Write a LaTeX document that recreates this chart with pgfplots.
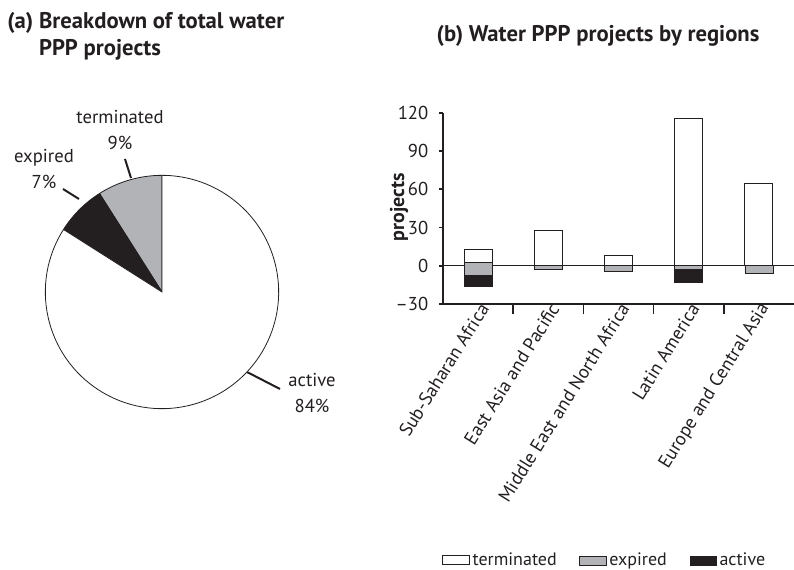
\documentclass[border=0pt]{standalone}
\usepackage{pgfplots}
\pgfplotsset{compat=1.18}
\usepackage{fontspec}
\setmainfont{PT Sans}
\definecolor{ink}{HTML}{231F20}
\definecolor{gr}{HTML}{B1B3B6}
\begin{document}
\begin{tikzpicture}
\useasboundingbox (0,0) rectangle (595.5pt,-427.5pt);
\begin{scope}[x=0.75pt,y=-0.75pt]
% titles
\node[anchor=north west, inner sep=0pt, text=ink, font=\bfseries\fontsize{17}{20}\selectfont] at (7,10)
  {\begin{tabular}{@{}l@{\ }l@{}}(a) & Breakdown of total water\\ & PPP projects\end{tabular}};
\node[text=ink, font=\bfseries\fontsize{17}{20}\selectfont] at (598,36) {(b) Water PPP projects by regions};
% pie leaders and labels
\draw[ink, line width=1.5pt] (131,178) -- (125,159);
\draw[ink, line width=1.5pt] (79,199) -- (63,189);
\draw[ink, line width=1.5pt] (247,372) -- (280,389);
\node[text=ink, align=center, font=\fontsize{14}{19.5}\selectfont] at (120,130) {terminated\\9\%};
\node[text=ink, align=center, font=\fontsize{14}{19.5}\selectfont] at (44,169) {expired\\7\%};
\node[text=ink, align=center, font=\fontsize{14}{19.5}\selectfont] at (312,393) {active\\84\%};
\node[rotate=90, text=ink, font=\bfseries\fontsize{15}{17}\selectfont] at (399,207) {projects};
\end{scope}
% pie (values: terminated 9, expired 7, active 84)
\begin{axis}[hide axis, at={(121.5pt,-219pt)}, anchor=center, scale only axis,
  width=175pt, height=175pt, xmin=-1, xmax=1, ymin=-1, ymax=1, clip=false]
\filldraw[fill=gr, draw=ink, line width=0.6pt] (axis cs:0,0) -- ++(90:87.5pt) arc[start angle=90, end angle={90+3.6*9}, radius=87.5pt] -- cycle;
\filldraw[fill=ink, draw=ink, line width=0.6pt] (axis cs:0,0) -- ++({90+3.6*9}:87.5pt) arc[start angle={90+3.6*9}, end angle={90+3.6*16}, radius=87.5pt] -- cycle;
\filldraw[fill=white, draw=ink, line width=0.6pt] (axis cs:0,0) -- ++({90+3.6*16}:87.5pt) arc[start angle={90+3.6*16}, end angle={450}, radius=87.5pt] -- cycle;
\end{axis}
% bar chart
\begin{axis}[at={(332.25pt,-228pt)}, anchor=south west, scale only axis,
  width=263.25pt, height=143.5pt,
  xmin=-0.5, xmax=4.5, ymin=-30, ymax=120,
  ybar stacked, stack negative=on previous, bar width=21pt,
  axis lines*=left, axis line style={ink, line width=1.3pt},
  tick align=outside, tick style={ink, line width=1.3pt},
  ytick={-30,0,30,60,90,120},
  yticklabels={\textendash30,0,30,60,90,120},
  ytick style={/pgfplots/major tick length=3pt},
  major tick length=7.5pt,
  xtick={0.5,1.5,2.5,3.5},
  xticklabels={},
  extra x ticks={0,1,2,3,4},
  extra x tick labels={Sub-Saharan Africa, East Asia and Pacific, Middle East and North Africa, Latin America, Europe and Central Asia},
  extra x tick style={/pgfplots/major tick length=0pt,
    xticklabel style={rotate=58, anchor=east, xshift=5pt, yshift=-4.5pt}},
  ticklabel style={text=ink, font=\fontsize{14}{16}\selectfont},
  legend columns=3,
  reverse legend,
  legend style={draw=none, fill=none, at={(-0.014,-1.34)}, anchor=west,
    font=\fontsize{13.5}{16}\selectfont, text=ink,
    nodes={inner xsep=2pt},
    /tikz/every even column/.append style={column sep=15pt}},
  legend image code/.code={\draw[#1] (0pt,-3.4pt) rectangle (20pt,3.4pt);},
  clip=false,
]
\addplot[draw=none, fill=none, forget plot] coordinates {(0,-16) (1,-2.9) (2,-4.2) (3,-13) (4,-6)};
\addplot[fill=ink, draw=ink, line width=0.5pt] coordinates {(0,8.7) (1,0) (2,0) (3,10.4) (4,0)};
\addlegendentry{active}
\addplot[fill=gr, draw=ink, line width=0.5pt] coordinates {(0,9.9) (1,2.9) (2,4.2) (3,2.6) (4,6)};
\addlegendentry{expired}
\addplot[fill=white, draw=ink, line width=0.7pt] coordinates {(0,10.2) (1,28) (2,8.4) (3,115.6) (4,64.6)};
\addlegendentry{terminated}
\draw[ink, line width=0.6pt] (axis cs:-0.5,0) -- (axis cs:4.5,0);
\end{axis}
\end{tikzpicture}
\end{document}
